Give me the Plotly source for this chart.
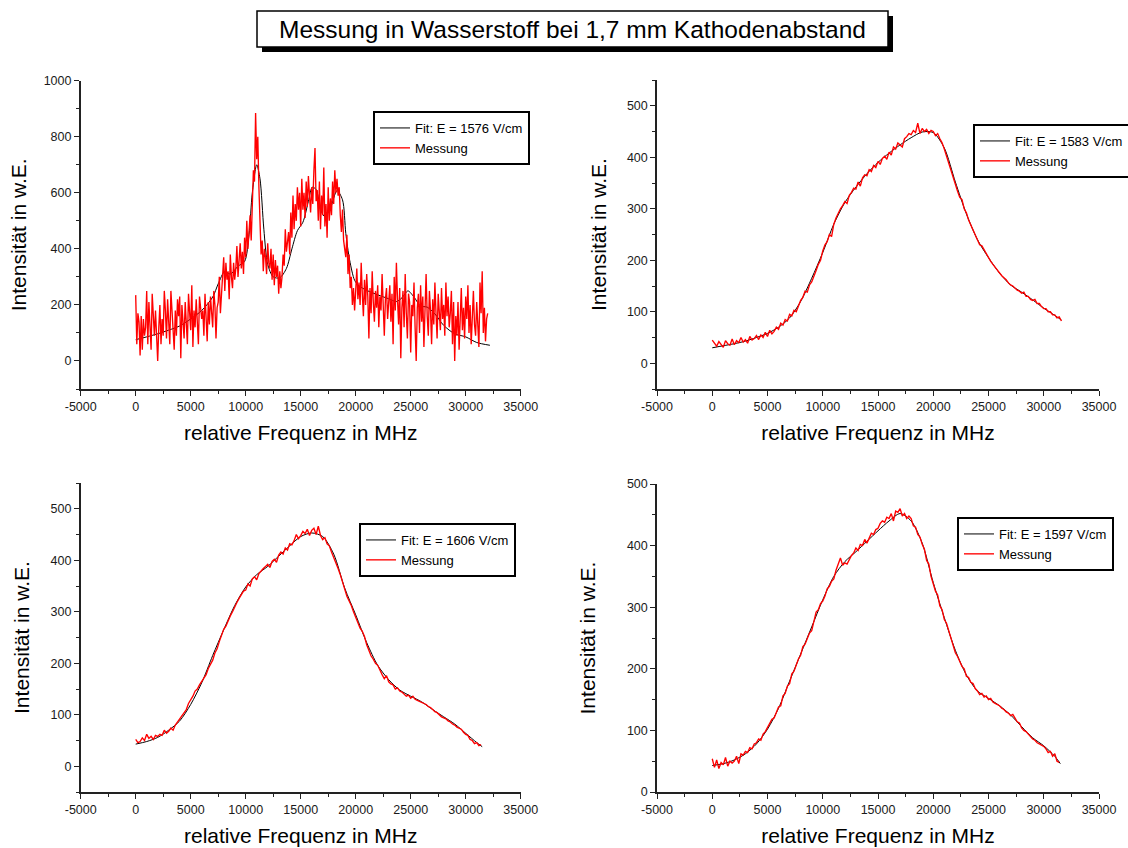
import plotly.graph_objects as go

# ---------------- data ----------------
X_TICKS = [-5000, 0, 5000, 10000, 15000, 20000, 25000, 30000, 35000]
X_TICK_TEXT = ["-5000", "0", "5000", "10000", "15000", "20000", "25000", "30000", "35000"]
Y_TICKS_1000 = [0, 200, 400, 600, 800, 1000]
Y_TICKS_500 = [0, 100, 200, 300, 400, 500]

TITLE = "Messung in Wasserstoff bei 1,7 mm Kathodenabstand"
X_TITLE = "relative Frequenz in MHz"
Y_TITLE = "Intensität in w.E."
FIT_NAMES = ["Fit: E = 1576 V/cm", "Fit: E = 1583 V/cm", "Fit: E = 1606 V/cm", "Fit: E = 1597 V/cm"]
MESS_NAME = "Messung"

# Panel 1 (top left)
FIT1_X = [0, 1000, 2000, 3000, 4000, 5000, 6000, 7000, 7500, 8100, 8600, 9300, 9900,
          10300, 10600, 11000, 11300, 11650, 12000, 12500, 13100, 13700, 14200, 14700,
          15200, 15700, 16050, 16400, 16850, 17200, 17700, 18300, 18800, 19100, 19450,
          19900, 20300, 21000, 22000, 23000, 23700, 24200, 24750, 25300, 25900, 26500,
          27200, 28000, 29000, 30000, 31000, 32200]
FIT1_Y = [76, 86, 97, 110, 125, 150, 180, 228, 275, 320, 310, 338, 355,
          450, 600, 700, 650, 470, 345, 300, 297, 330, 400, 465,
          495, 570, 620, 612, 535, 515, 545, 608, 575, 455, 360,
          288, 268, 252, 236, 222, 212, 225, 250, 228, 196, 192,
          168, 127, 97, 86, 66, 56]
MESS1_X = list(range(0, 32001, 100))
MESS1_Y = [
    235, 60, 170, 140, 20, 160, 40, 150, 90, 120,
    250, 60, 210, 130, 40, 240, 160, 90, 180, 70,
    0, 120, 200, 60, 150, 90, 250, 180, 80, 220,
    140, 60, 250, 190, 110, 40, 180, 90, 220, 160,
    230, 10, 200, 130, 80, 210, 150, 60, 240, 170,
    110, 270, 50, 180, 120, 220, 140, 60, 230, 200,
    150, 180, 90, 240, 170, 70, 210, 130, 230, 150,
    120, 250, 200, 80, 190, 210, 300, 170, 240, 290,
    370, 250, 350, 290, 320, 220, 380, 300, 260, 350,
    290, 330, 410, 300, 360, 420, 330, 390, 310, 440,
    370, 500, 400, 470, 520, 430, 600, 680, 640, 885,
    720, 800, 620, 460, 380, 430, 320, 400, 370, 310,
    420, 350, 330, 400, 290, 380, 270, 360, 300, 340,
    240, 320, 260, 300, 380, 340, 470, 390, 420, 460,
    380, 530, 440, 590, 470, 560, 500, 620, 540, 600,
    480, 650, 540, 600, 510, 640, 550, 660, 590, 530,
    620, 560, 680, 760, 570, 610, 500, 640, 470, 590,
    520, 690, 480, 560, 440, 620, 500, 580, 520, 640,
    560, 680, 600, 650, 590, 620, 520, 460, 540, 430,
    400, 370, 450, 310, 380, 260, 300, 200, 260, 180,
    250, 330, 220, 280, 200, 350, 240, 160, 290, 200,
    310, 230, 80, 260, 170, 320, 210, 140, 250, 190,
    270, 120, 230, 180, 310, 160, 90, 220, 260, 150,
    200, 270, 140, 240, 60, 300, 180, 350, 220, 130,
    260, 10, 190, 250, 120, 310, 170, 80, 240, 210,
    30, 200, 160, 280, 120, 0, 190, 240, 100, 270,
    140, 230, 50, 210, 310, 160, 90, 250, 180, 60,
    220, 130, 280, 170, 80, 240, 190, 110, 260, 150,
    200, 90, 280, 160, 230, 120, 170, 250, 60, 210,
    0, 160, 90, 210, 40, 140, 260, 110, 190, 80,
    230, 150, 270, 100, 200, 60, 180, 250, 130, 90,
    210, 140, 50, 280, 170, 320, 100, 190, 70, 150,
    170]

# Panel 2 (top right)
FIT2_X = list(range(0, 31001, 1000)) + [31600]
FIT2_Y = [30, 34, 38, 43, 50, 58, 70, 88, 120, 165,
          215, 270, 312, 342, 368, 390, 408, 424, 438, 449,
          448, 418, 352, 290, 240, 205, 175, 152, 138, 123,
          107, 93, 84]
MESS2_X = list(range(0, 31601, 200))
MESS2_Y = [
    45, 40, 33, 42, 36, 31, 44, 38, 35, 47,
    36, 44, 40, 50, 41, 46, 39, 52, 45, 48,
    54, 46, 55, 50, 60, 52, 64, 57, 62, 70,
    66, 78, 74, 85, 82, 95, 92, 103, 100, 112,
    122, 128, 140, 138, 152, 158, 168, 180, 192, 200,
    218, 230, 236, 250, 246, 270, 282, 292, 300, 306,
    314, 310, 326, 332, 340, 338, 352, 344, 360, 366,
    364, 376, 372, 384, 380, 392, 386, 398, 402, 396,
    410, 404, 420, 416, 428, 424, 420, 436, 440, 446,
    444, 452, 448, 466, 446, 456, 450, 454, 446, 452,
    450, 442, 446, 436, 428, 416, 402, 386, 372, 360,
    346, 334, 322, 318, 300, 292, 278, 268, 258, 250,
    238, 230, 228, 220, 212, 204, 198, 192, 186, 180,
    174, 170, 166, 162, 156, 152, 150, 146, 142, 140,
    136, 138, 130, 130, 124, 122, 124, 116, 116, 110,
    106, 106, 100, 100, 94, 94, 88, 90, 82]

# Panel 3 (bottom left)
FIT3_X = list(range(0, 31001, 1000)) + [31500]
FIT3_Y = [43, 48, 56, 70, 88, 120, 162, 215, 265, 312,
          348, 372, 388, 408, 428, 446, 453, 446, 412, 346,
          294, 240, 196, 168, 148, 136, 125, 110, 96, 82,
          64, 46, 38]
MESS3_X = list(range(0, 31401, 200))
MESS3_Y = [
    52, 46, 48, 55, 50, 62, 54, 58, 52, 60,
    58, 62, 60, 70, 64, 68, 74, 70, 80, 86,
    90, 96, 104, 110, 122, 128, 136, 146, 150, 158,
    164, 172, 178, 190, 198, 206, 220, 228, 242, 256,
    266, 272, 284, 292, 300, 310, 318, 326, 334, 340,
    342, 354, 350, 364, 368, 362, 374, 380, 384, 388,
    392, 386, 398, 402, 396, 410, 416, 412, 424, 420,
    432, 430, 438, 450, 442, 448, 456, 452, 460, 448,
    458, 462, 450, 466, 448, 440, 444, 432, 428, 416,
    406, 396, 384, 372, 360, 344, 330, 322, 312, 300,
    290, 280, 268, 262, 252, 236, 226, 214, 208, 200,
    196, 186, 178, 170, 176, 164, 160, 158, 150, 152,
    146, 144, 140, 136, 138, 132, 136, 130, 128, 126,
    124, 122, 120, 116, 114, 110, 106, 104, 100, 96,
    94, 92, 88, 86, 82, 80, 76, 74, 72, 66,
    62, 60, 52, 50, 44, 46, 40, 42]

# Panel 4 (bottom right)
FIT4_X = list(range(0, 31001, 1000)) + [31500]
FIT4_Y = [43, 46, 52, 62, 78, 102, 136, 180, 224, 268,
          312, 350, 374, 390, 407, 424, 440, 452, 440, 404,
          340, 283, 230, 190, 164, 152, 140, 125, 106, 88,
          75, 58, 46]
MESS4_X = list(range(0, 31401, 200))
MESS4_Y = [
    54, 40, 52, 38, 48, 44, 56, 42, 50, 47,
    50, 58, 46, 62, 60, 66, 64, 72, 70, 78,
    80, 86, 84, 94, 98, 104, 112, 118, 120, 130,
    138, 140, 156, 160, 172, 176, 192, 196, 206, 216,
    222, 236, 240, 250, 258, 262, 276, 292, 296, 306,
    310, 318, 330, 334, 342, 346, 360, 372, 380, 368,
    372, 370, 378, 384, 388, 396, 392, 402, 400, 410,
    404, 412, 420, 418, 426, 428, 436, 440, 438, 446,
    444, 452, 440, 456, 454, 460, 448, 452, 444, 448,
    444, 432, 430, 418, 414, 402, 394, 376, 370, 350,
    336, 326, 320, 302, 296, 280, 274, 262, 250, 240,
    226, 220, 212, 204, 200, 188, 186, 178, 176, 168,
    164, 158, 160, 154, 156, 150, 152, 146, 144, 142,
    140, 136, 134, 130, 128, 124, 126, 120, 114, 112,
    104, 100, 98, 94, 90, 86, 84, 80, 78, 76,
    74, 70, 64, 66, 58, 62, 50, 48]

# ---------------- layout helpers ----------------
W, H = 1128, 848
FONT = "Arial, 'Liberation Sans', Helvetica, sans-serif"


def px(x):
    return x / W


def py(y):
    return 1 - y / H


panels = [
    # fit x/y, measured x/y, x domain px, y domain px (top,bottom), y range, y ticks, y minor, legend pos, y standoff
    (FIT1_X, FIT1_Y, MESS1_X, MESS1_Y, (80.7, 520.7), (80.7, 389), [-100, 1000], Y_TICKS_1000, 100, (373, 111), 11),
    (FIT2_X, FIT2_Y, MESS2_X, MESS2_Y, (657, 1099), (80, 389), [-50, 550], Y_TICKS_500, 50, (973, 124), 15),
    (FIT3_X, FIT3_Y, MESS3_X, MESS3_Y, (80.7, 520.7), (483, 792), [-50, 550], Y_TICKS_500, 50, (359, 523), 15),
    (FIT4_X, FIT4_Y, MESS4_X, MESS4_Y, (657, 1099), (484, 792), [0, 500], Y_TICKS_500, 50, (957, 517), 26),
]

fig = go.Figure()
layout = dict(
    width=W, height=H,
    margin=dict(l=0, r=0, t=0, b=0, autoexpand=False),
    paper_bgcolor="white", plot_bgcolor="white",
    font=dict(family=FONT, color="#111"),
    showlegend=True,
)

for i, (fx, fy, mx, my, xd, yd, yr, yt, ymin, lpos, ystand) in enumerate(panels):
    n = "" if i == 0 else str(i + 1)
    leg = "legend" if i == 0 else "legend" + str(i + 1)
    fig.add_trace(go.Scatter(
        x=fx, y=fy, mode="lines", name=FIT_NAMES[i],
        line=dict(color="black", width=1, shape="spline", smoothing=0.8),
        xaxis="x" + n, yaxis="y" + n, legend=leg))
    fig.add_trace(go.Scatter(
        x=mx, y=my, mode="lines", name=MESS_NAME,
        line=dict(color="#ff0000", width=1.35),
        xaxis="x" + n, yaxis="y" + n, legend=leg))

    axis_common = dict(
        automargin=False,
        showline=True, linecolor="#222", linewidth=1.5, mirror=False,
        showgrid=False, zeroline=False,
        ticks="outside", ticklen=5, tickwidth=1.2, tickcolor="#222",
        tickfont=dict(family=FONT, size=12.5, color="#1a1a1a"),
    )
    layout["xaxis" + n] = dict(
        axis_common,
        domain=[px(xd[0]), px(xd[1])],
        anchor="y" + n,
        range=[-5000, 35000],
        tickmode="array", tickvals=X_TICKS, ticktext=X_TICK_TEXT,
        minor=dict(tickmode="linear", tick0=0, dtick=2500, ticks="outside",
                   ticklen=3, tickwidth=1.2, tickcolor="#222", showgrid=False),
        title=dict(text=X_TITLE, font=dict(family=FONT, size=21, color="black"), standoff=13),
    )
    layout["yaxis" + n] = dict(
        axis_common,
        domain=[py(yd[1]), py(yd[0])],
        anchor="x" + n,
        range=yr,
        tickmode="array", tickvals=yt, ticktext=[str(v) for v in yt],
        minor=dict(tickmode="linear", tick0=0, dtick=ymin, ticks="outside",
                   ticklen=3, tickwidth=1.2, tickcolor="#222", showgrid=False),
        title=dict(text=Y_TITLE, font=dict(family=FONT, size=21, color="black"), standoff=ystand),
    )
    layout[leg] = dict(
        x=px(lpos[0]), y=py(lpos[1]), xanchor="left", yanchor="top",
        bgcolor="white", bordercolor="black", borderwidth=2,
        font=dict(family=FONT, size=13, color="black"),
        tracegroupgap=0, itemwidth=30,
    )

fig.update_layout(**layout)

# title box with drop shadow
fig.add_shape(type="rect", xref="paper", yref="paper",
              x0=px(262), x1=px(893), y0=py(52), y1=py(16),
              fillcolor="black", line=dict(width=0), layer="above")
fig.add_shape(type="rect", xref="paper", yref="paper",
              x0=px(257), x1=px(888), y0=py(47), y1=py(11),
              fillcolor="white", line=dict(color="black", width=1.5), layer="above")
fig.add_annotation(text=TITLE, xref="paper", yref="paper",
                   x=px(572.5), y=py(29), xanchor="center", yanchor="middle",
                   showarrow=False, font=dict(family=FONT, size=24.5, color="black"))

fig.write_html("out.html", config={"displayModeBar": False},
               post_script="document.body.style.margin='0';")
